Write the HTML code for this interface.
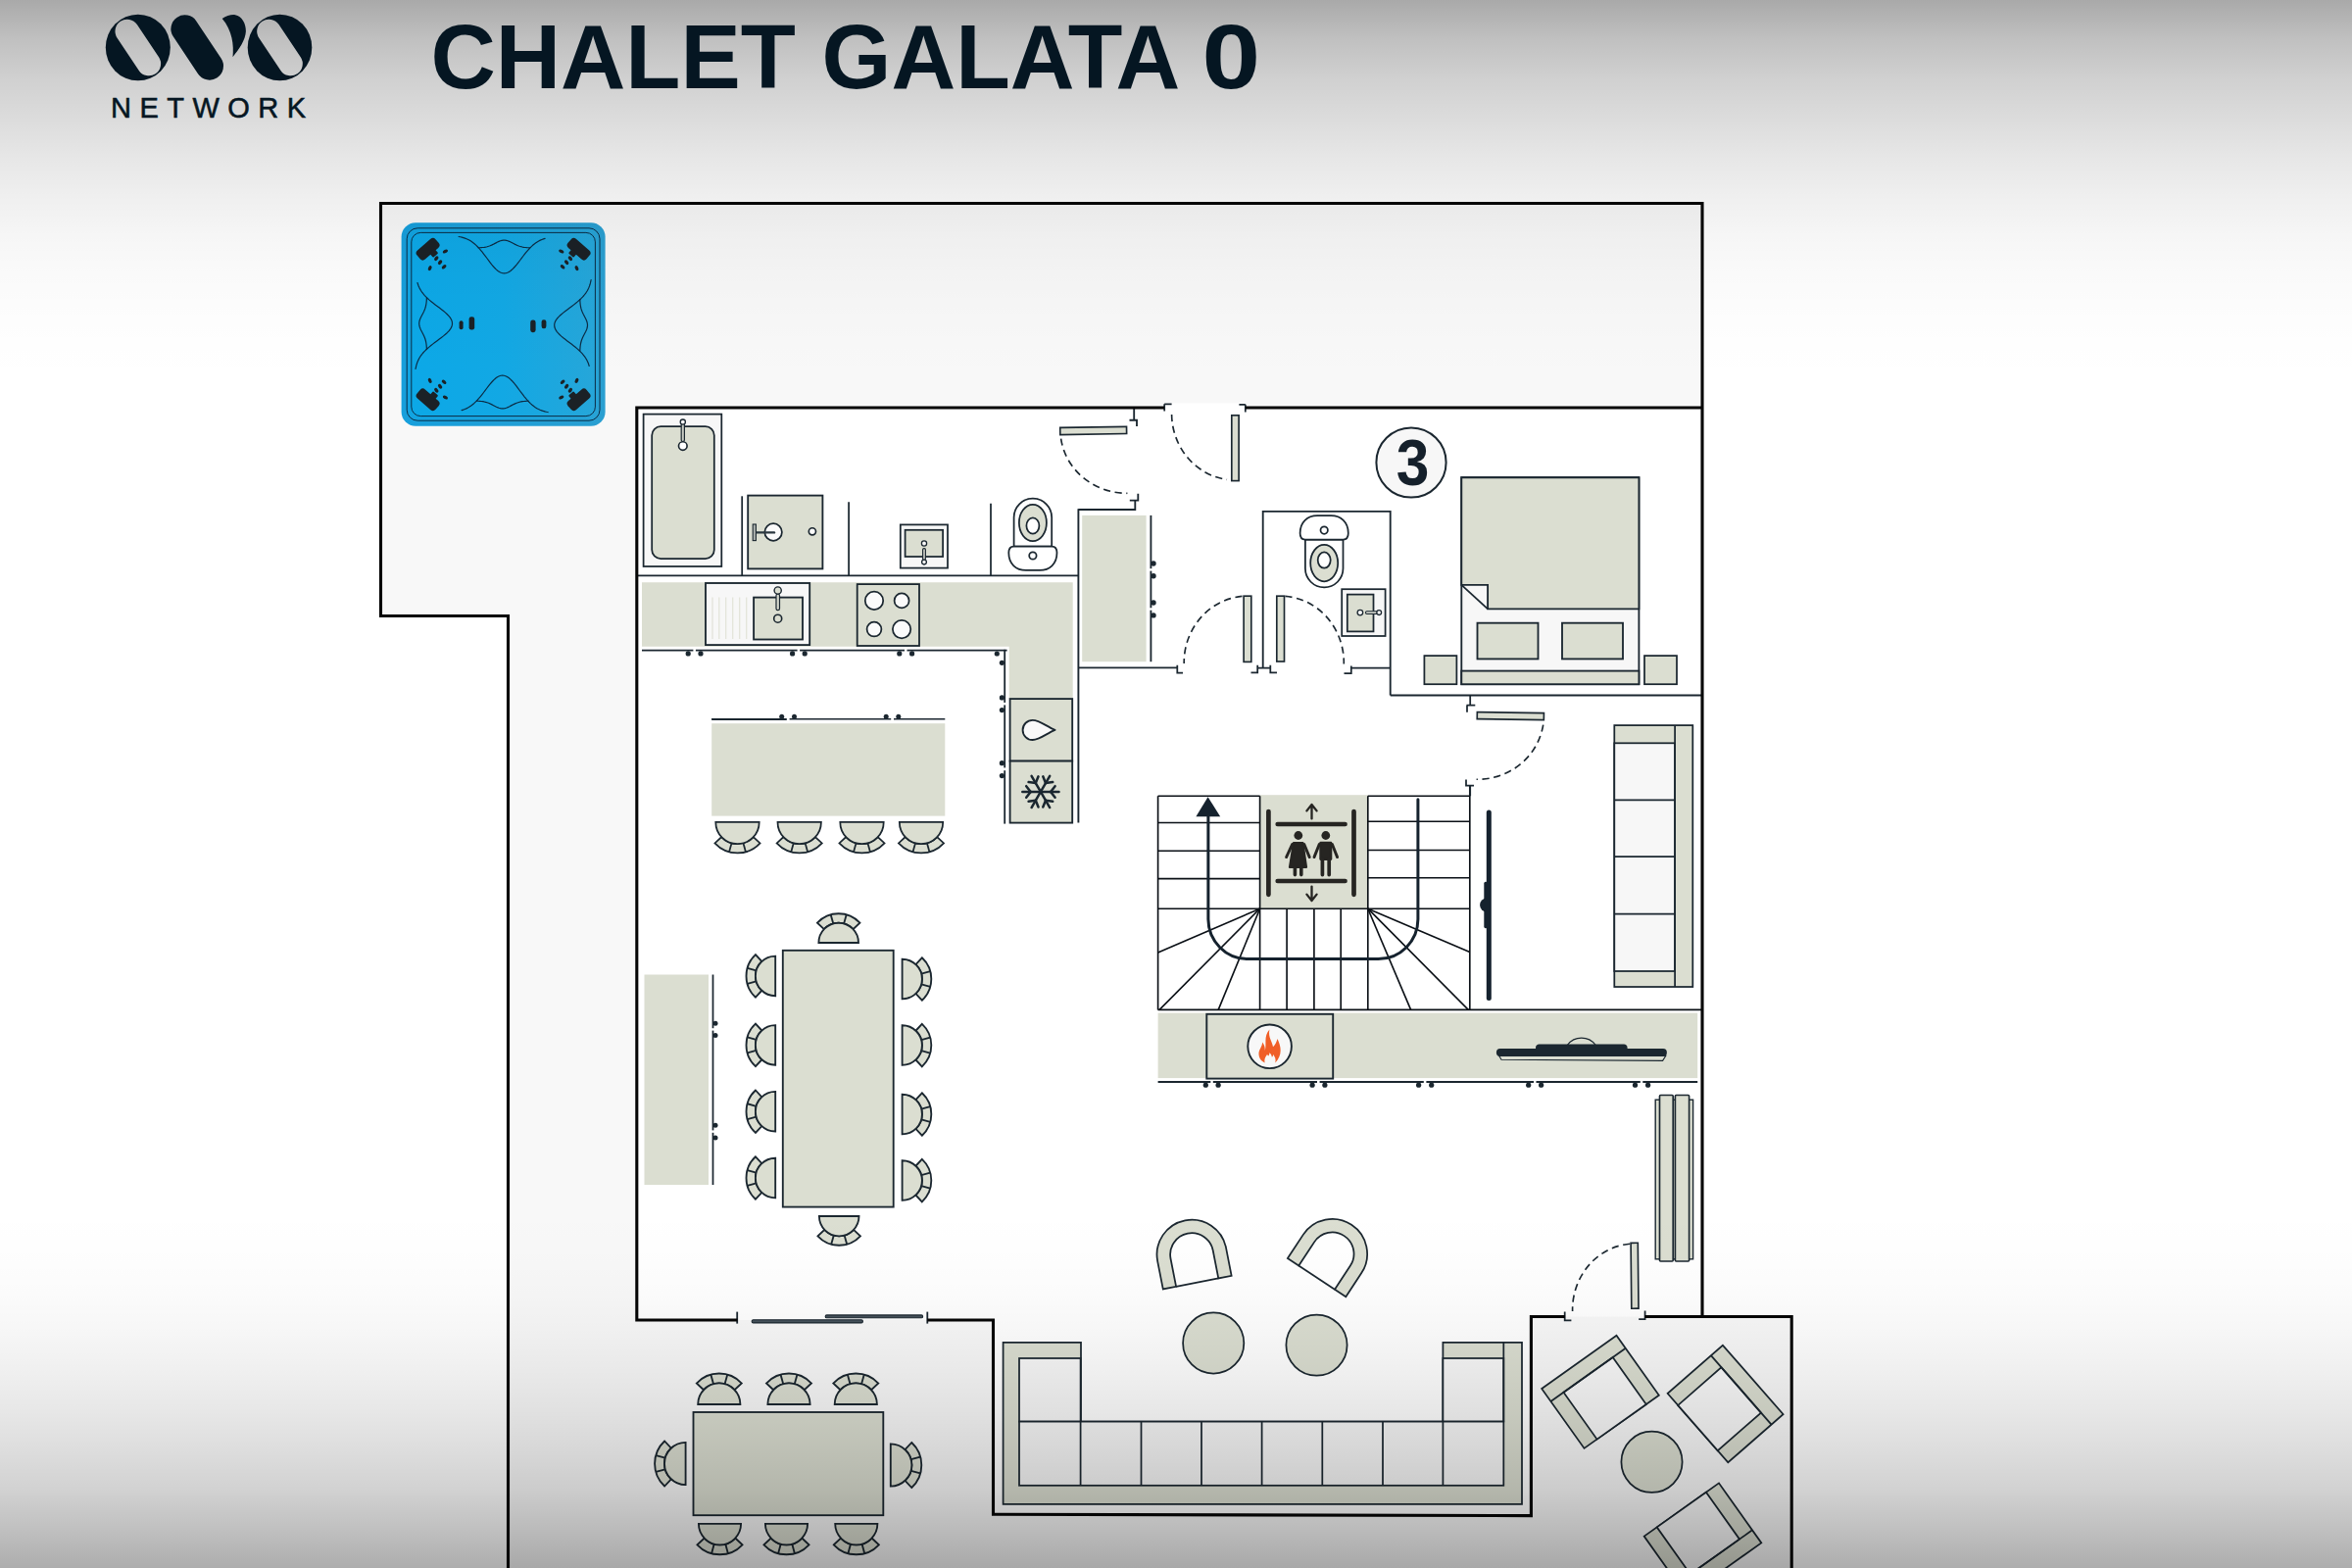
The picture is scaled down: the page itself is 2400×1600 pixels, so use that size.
<!DOCTYPE html>
<html lang="en">
<head>
<meta charset="utf-8">
<title>Chalet Galata 0</title>
<style>
html,body{margin:0;padding:0;background:#fff;}
body{width:2400px;height:1600px;overflow:hidden;font-family:"Liberation Sans",sans-serif;}
svg{display:block;}
</style>
</head>
<body>
<svg width="2400" height="1600" viewBox="0 0 2400 1600">
<defs>
<linearGradient id="gt" x1="0" y1="0" x2="0" y2="1">
<stop offset="0.0" stop-color="#000" stop-opacity="0.337"/>
<stop offset="0.1" stop-color="#000" stop-opacity="0.247"/>
<stop offset="0.2" stop-color="#000" stop-opacity="0.184"/>
<stop offset="0.3" stop-color="#000" stop-opacity="0.14"/>
<stop offset="0.4" stop-color="#000" stop-opacity="0.097"/>
<stop offset="0.5" stop-color="#000" stop-opacity="0.063"/>
<stop offset="0.6" stop-color="#000" stop-opacity="0.036"/>
<stop offset="0.7" stop-color="#000" stop-opacity="0.02"/>
<stop offset="0.8" stop-color="#000" stop-opacity="0.01"/>
<stop offset="0.9" stop-color="#000" stop-opacity="0.003"/>
<stop offset="1.0" stop-color="#000" stop-opacity="0"/>
</linearGradient>
<linearGradient id="gb" x1="0" y1="1" x2="0" y2="0">
<stop offset="0.0" stop-color="#000" stop-opacity="0.322"/>
<stop offset="0.1" stop-color="#000" stop-opacity="0.247"/>
<stop offset="0.2" stop-color="#000" stop-opacity="0.178"/>
<stop offset="0.3" stop-color="#000" stop-opacity="0.134"/>
<stop offset="0.4" stop-color="#000" stop-opacity="0.094"/>
<stop offset="0.5" stop-color="#000" stop-opacity="0.062"/>
<stop offset="0.6" stop-color="#000" stop-opacity="0.035"/>
<stop offset="0.7" stop-color="#000" stop-opacity="0.016"/>
<stop offset="0.8" stop-color="#000" stop-opacity="0.006"/>
<stop offset="0.9" stop-color="#000" stop-opacity="0.001"/>
<stop offset="1.0" stop-color="#000" stop-opacity="0"/>
</linearGradient>
<mask id="mo1"><rect x="100" y="0" width="230" height="100" fill="#fff"/><line x1="129.7" y1="31.9" x2="151.9" y2="65.1" stroke="#000" stroke-width="24.4" stroke-linecap="round"/></mask>
<mask id="mo2"><rect x="100" y="0" width="230" height="100" fill="#fff"/><line x1="274.4" y1="31.9" x2="296.6" y2="65.1" stroke="#000" stroke-width="24.4" stroke-linecap="round"/></mask>
</defs>
<rect x="0" y="0" width="2400" height="1600" fill="#ffffff"/>
<polygon points="388.50,207.50 1737.00,207.50 1737.00,1343.50 1828.20,1343.50 1828.20,1600.00 518.50,1600.00 518.50,628.50 388.50,628.50" fill="#f8f8f8" />
<polygon points="649.80,416.00 1188.00,416.00 1188.00,411.50 1271.00,411.50 1271.00,416.00 1737.00,416.00 1737.00,1343.50 1562.40,1343.50 1562.40,1546.50 1013.50,1545.30 1013.50,1347.00 649.80,1347.00" fill="#ffffff" />
<g>
<linearGradient id="tubA" x1="0" y1="0" x2="1" y2="0"><stop offset="0" stop-color="#169fdc"/><stop offset="1" stop-color="#2a9fd1"/></linearGradient>
<linearGradient id="tubB" x1="0" y1="0" x2="1" y2="0"><stop offset="0" stop-color="#0ca8e7"/><stop offset="0.5" stop-color="#12a8e4"/><stop offset="1" stop-color="#26a6d9"/></linearGradient>
<rect x="409.60" y="227.20" width="208.00" height="207.60" fill="url(#tubA)" rx="14.5" />
<rect x="415.20" y="232.80" width="196.80" height="196.40" fill="url(#tubB)" stroke="#0b2c45" stroke-width="1.0" rx="11" fill-opacity="0.55"/>
<rect x="419.80" y="237.40" width="187.60" height="187.20" fill="url(#tubB)" stroke="#0b2c45" stroke-width="1.0" rx="9.5" />
<g transform="rotate(0 513.60 331.00)" fill="none" stroke="#0b2c45" stroke-width="1.2" stroke-linecap="round" stroke-linejoin="round">
<polyline points="468.10,241.48 469.70,241.78 471.30,242.14 472.90,242.58 474.50,243.11 476.10,243.74 477.70,244.48 479.30,245.34 480.90,246.34 482.50,247.47 484.10,248.74 485.70,250.16 487.30,251.73 488.90,253.43 490.50,255.27 492.10,257.21 493.70,259.26 495.30,261.37 496.90,263.51 498.50,265.67 500.10,267.78 501.70,269.83 503.30,271.76 504.90,273.53 506.50,275.10 508.10,276.44 509.70,277.51 511.30,278.29 512.90,278.76 514.50,278.90 516.10,278.75 517.70,278.28 519.30,277.49 520.90,276.42 522.50,275.08 524.10,273.52 525.70,271.76 527.30,269.85 528.90,267.83 530.50,265.74 532.10,263.62 533.70,261.50 535.30,259.43 536.90,257.44 538.50,255.53 540.10,253.75 541.70,252.09 543.30,250.58 544.90,249.21 546.50,247.99 548.10,246.91 549.70,245.97 551.30,245.16 552.90,244.46 554.50,243.88 556.10,243.40"/>
<polyline points="488.10,252.80 489.60,252.74 491.10,252.64 492.60,252.51 494.10,252.32 495.60,252.06 497.10,251.72 498.60,251.28 500.10,250.75 501.60,250.12 503.10,249.41 504.60,248.64 506.10,247.85 507.60,247.07 509.10,246.36 510.60,245.78 512.10,245.36 513.60,245.13 515.10,245.12 516.60,245.33 518.10,245.74 519.60,246.32 521.10,247.02 522.60,247.79 524.10,248.59 525.60,249.36 527.10,250.08 528.60,250.71 530.10,251.25 531.60,251.69 533.10,252.04 534.60,252.30 536.10,252.50 537.60,252.64 539.10,252.73 540.60,252.80"/>
</g>
<g transform="rotate(90 513.60 331.00)" fill="none" stroke="#0b2c45" stroke-width="1.2" stroke-linecap="round" stroke-linejoin="round">
<polyline points="468.10,241.48 469.70,241.78 471.30,242.14 472.90,242.58 474.50,243.11 476.10,243.74 477.70,244.48 479.30,245.34 480.90,246.34 482.50,247.47 484.10,248.74 485.70,250.16 487.30,251.73 488.90,253.43 490.50,255.27 492.10,257.21 493.70,259.26 495.30,261.37 496.90,263.51 498.50,265.67 500.10,267.78 501.70,269.83 503.30,271.76 504.90,273.53 506.50,275.10 508.10,276.44 509.70,277.51 511.30,278.29 512.90,278.76 514.50,278.90 516.10,278.75 517.70,278.28 519.30,277.49 520.90,276.42 522.50,275.08 524.10,273.52 525.70,271.76 527.30,269.85 528.90,267.83 530.50,265.74 532.10,263.62 533.70,261.50 535.30,259.43 536.90,257.44 538.50,255.53 540.10,253.75 541.70,252.09 543.30,250.58 544.90,249.21 546.50,247.99 548.10,246.91 549.70,245.97 551.30,245.16 552.90,244.46 554.50,243.88 556.10,243.40"/>
<polyline points="488.10,252.80 489.60,252.74 491.10,252.64 492.60,252.51 494.10,252.32 495.60,252.06 497.10,251.72 498.60,251.28 500.10,250.75 501.60,250.12 503.10,249.41 504.60,248.64 506.10,247.85 507.60,247.07 509.10,246.36 510.60,245.78 512.10,245.36 513.60,245.13 515.10,245.12 516.60,245.33 518.10,245.74 519.60,246.32 521.10,247.02 522.60,247.79 524.10,248.59 525.60,249.36 527.10,250.08 528.60,250.71 530.10,251.25 531.60,251.69 533.10,252.04 534.60,252.30 536.10,252.50 537.60,252.64 539.10,252.73 540.60,252.80"/>
</g>
<g transform="rotate(180 513.60 331.00)" fill="none" stroke="#0b2c45" stroke-width="1.2" stroke-linecap="round" stroke-linejoin="round">
<polyline points="468.10,241.48 469.70,241.78 471.30,242.14 472.90,242.58 474.50,243.11 476.10,243.74 477.70,244.48 479.30,245.34 480.90,246.34 482.50,247.47 484.10,248.74 485.70,250.16 487.30,251.73 488.90,253.43 490.50,255.27 492.10,257.21 493.70,259.26 495.30,261.37 496.90,263.51 498.50,265.67 500.10,267.78 501.70,269.83 503.30,271.76 504.90,273.53 506.50,275.10 508.10,276.44 509.70,277.51 511.30,278.29 512.90,278.76 514.50,278.90 516.10,278.75 517.70,278.28 519.30,277.49 520.90,276.42 522.50,275.08 524.10,273.52 525.70,271.76 527.30,269.85 528.90,267.83 530.50,265.74 532.10,263.62 533.70,261.50 535.30,259.43 536.90,257.44 538.50,255.53 540.10,253.75 541.70,252.09 543.30,250.58 544.90,249.21 546.50,247.99 548.10,246.91 549.70,245.97 551.30,245.16 552.90,244.46 554.50,243.88 556.10,243.40"/>
<polyline points="488.10,252.80 489.60,252.74 491.10,252.64 492.60,252.51 494.10,252.32 495.60,252.06 497.10,251.72 498.60,251.28 500.10,250.75 501.60,250.12 503.10,249.41 504.60,248.64 506.10,247.85 507.60,247.07 509.10,246.36 510.60,245.78 512.10,245.36 513.60,245.13 515.10,245.12 516.60,245.33 518.10,245.74 519.60,246.32 521.10,247.02 522.60,247.79 524.10,248.59 525.60,249.36 527.10,250.08 528.60,250.71 530.10,251.25 531.60,251.69 533.10,252.04 534.60,252.30 536.10,252.50 537.60,252.64 539.10,252.73 540.60,252.80"/>
</g>
<g transform="rotate(270 513.60 331.00)" fill="none" stroke="#0b2c45" stroke-width="1.2" stroke-linecap="round" stroke-linejoin="round">
<polyline points="468.10,241.48 469.70,241.78 471.30,242.14 472.90,242.58 474.50,243.11 476.10,243.74 477.70,244.48 479.30,245.34 480.90,246.34 482.50,247.47 484.10,248.74 485.70,250.16 487.30,251.73 488.90,253.43 490.50,255.27 492.10,257.21 493.70,259.26 495.30,261.37 496.90,263.51 498.50,265.67 500.10,267.78 501.70,269.83 503.30,271.76 504.90,273.53 506.50,275.10 508.10,276.44 509.70,277.51 511.30,278.29 512.90,278.76 514.50,278.90 516.10,278.75 517.70,278.28 519.30,277.49 520.90,276.42 522.50,275.08 524.10,273.52 525.70,271.76 527.30,269.85 528.90,267.83 530.50,265.74 532.10,263.62 533.70,261.50 535.30,259.43 536.90,257.44 538.50,255.53 540.10,253.75 541.70,252.09 543.30,250.58 544.90,249.21 546.50,247.99 548.10,246.91 549.70,245.97 551.30,245.16 552.90,244.46 554.50,243.88 556.10,243.40"/>
<polyline points="488.10,252.80 489.60,252.74 491.10,252.64 492.60,252.51 494.10,252.32 495.60,252.06 497.10,251.72 498.60,251.28 500.10,250.75 501.60,250.12 503.10,249.41 504.60,248.64 506.10,247.85 507.60,247.07 509.10,246.36 510.60,245.78 512.10,245.36 513.60,245.13 515.10,245.12 516.60,245.33 518.10,245.74 519.60,246.32 521.10,247.02 522.60,247.79 524.10,248.59 525.60,249.36 527.10,250.08 528.60,250.71 530.10,251.25 531.60,251.69 533.10,252.04 534.60,252.30 536.10,252.50 537.60,252.64 539.10,252.73 540.60,252.80"/>
</g>
<g transform="translate(513.60,331.00) scale(1,1) translate(-513.60,-331.00)" fill="#1b2126">
<rect x="-12.5" y="-6" width="25" height="12" rx="3.6" transform="translate(436.6,254.2) rotate(-41)"/>
<rect x="-3.5" y="-3" width="7" height="6" rx="1" transform="translate(442.6,258.3) rotate(-41)"/>
<ellipse cx="454.4" cy="256.5" rx="2.7" ry="1.7" transform="rotate(-25 454.4 256.5)"/>
<ellipse cx="445.3" cy="263.7" rx="2.7" ry="1.7" transform="rotate(-50 445.3 263.7)"/>
<ellipse cx="449.1" cy="267.7" rx="2.7" ry="1.7" transform="rotate(-50 449.1 267.7)"/>
<ellipse cx="453.1" cy="272.3" rx="2.7" ry="1.7" transform="rotate(-40 453.1 272.3)"/>
<ellipse cx="438.7" cy="273.6" rx="2.7" ry="1.7" transform="rotate(-65 438.7 273.6)"/>
</g>
<g transform="translate(513.60,331.00) scale(-1,1) translate(-513.60,-331.00)" fill="#1b2126">
<rect x="-12.5" y="-6" width="25" height="12" rx="3.6" transform="translate(436.6,254.2) rotate(-41)"/>
<rect x="-3.5" y="-3" width="7" height="6" rx="1" transform="translate(442.6,258.3) rotate(-41)"/>
<ellipse cx="454.4" cy="256.5" rx="2.7" ry="1.7" transform="rotate(-25 454.4 256.5)"/>
<ellipse cx="445.3" cy="263.7" rx="2.7" ry="1.7" transform="rotate(-50 445.3 263.7)"/>
<ellipse cx="449.1" cy="267.7" rx="2.7" ry="1.7" transform="rotate(-50 449.1 267.7)"/>
<ellipse cx="453.1" cy="272.3" rx="2.7" ry="1.7" transform="rotate(-40 453.1 272.3)"/>
<ellipse cx="438.7" cy="273.6" rx="2.7" ry="1.7" transform="rotate(-65 438.7 273.6)"/>
</g>
<g transform="translate(513.60,331.00) scale(1,-1) translate(-513.60,-331.00)" fill="#1b2126">
<rect x="-12.5" y="-6" width="25" height="12" rx="3.6" transform="translate(436.6,254.2) rotate(-41)"/>
<rect x="-3.5" y="-3" width="7" height="6" rx="1" transform="translate(442.6,258.3) rotate(-41)"/>
<ellipse cx="454.4" cy="256.5" rx="2.7" ry="1.7" transform="rotate(-25 454.4 256.5)"/>
<ellipse cx="445.3" cy="263.7" rx="2.7" ry="1.7" transform="rotate(-50 445.3 263.7)"/>
<ellipse cx="449.1" cy="267.7" rx="2.7" ry="1.7" transform="rotate(-50 449.1 267.7)"/>
<ellipse cx="453.1" cy="272.3" rx="2.7" ry="1.7" transform="rotate(-40 453.1 272.3)"/>
<ellipse cx="438.7" cy="273.6" rx="2.7" ry="1.7" transform="rotate(-65 438.7 273.6)"/>
</g>
<g transform="translate(513.60,331.00) scale(-1,-1) translate(-513.60,-331.00)" fill="#1b2126">
<rect x="-12.5" y="-6" width="25" height="12" rx="3.6" transform="translate(436.6,254.2) rotate(-41)"/>
<rect x="-3.5" y="-3" width="7" height="6" rx="1" transform="translate(442.6,258.3) rotate(-41)"/>
<ellipse cx="454.4" cy="256.5" rx="2.7" ry="1.7" transform="rotate(-25 454.4 256.5)"/>
<ellipse cx="445.3" cy="263.7" rx="2.7" ry="1.7" transform="rotate(-50 445.3 263.7)"/>
<ellipse cx="449.1" cy="267.7" rx="2.7" ry="1.7" transform="rotate(-50 449.1 267.7)"/>
<ellipse cx="453.1" cy="272.3" rx="2.7" ry="1.7" transform="rotate(-40 453.1 272.3)"/>
<ellipse cx="438.7" cy="273.6" rx="2.7" ry="1.7" transform="rotate(-65 438.7 273.6)"/>
</g>
<g fill="#1b2126">
<rect x="468.60" y="327.20" width="4.00" height="9.00" fill="#1b2126" rx="2" />
<rect x="478.60" y="323.20" width="5.60" height="13.40" fill="#1b2126" rx="2.4" />
<rect x="541.20" y="326.50" width="5.40" height="12.70" fill="#1b2126" rx="2.4" />
<rect x="552.60" y="326.20" width="4.80" height="9.00" fill="#1b2126" rx="2.2" />
</g></g>
<rect x="656.60" y="422.60" width="79.70" height="155.40" fill="#f7f7f7" stroke="#1b2730" stroke-width="1.75" />
<rect x="665.20" y="435.20" width="63.60" height="134.80" fill="#dbded1" stroke="#1b2730" stroke-width="1.75" rx="9" />
<rect x="695.20" y="432.00" width="3.20" height="18.50" fill="#c9ccc4" stroke="#1b2730" stroke-width="1.2" rx="1.4" />
<circle cx="696.80" cy="430.60" r="2.60" fill="#f7f7f7" stroke="#1b2730" stroke-width="1.3"/>
<circle cx="696.80" cy="455.00" r="4.30" fill="#ffffff" stroke="#1b2730" stroke-width="1.65"/>
<line x1="651.00" y1="587.40" x2="1100.40" y2="587.40" stroke="#1b2730" stroke-width="1.85" stroke-linecap="butt" />
<line x1="757.20" y1="506.30" x2="757.20" y2="587.40" stroke="#1b2730" stroke-width="1.75" stroke-linecap="butt" />
<line x1="866.10" y1="512.20" x2="866.10" y2="587.40" stroke="#1b2730" stroke-width="1.75" stroke-linecap="butt" />
<line x1="1011.00" y1="513.70" x2="1011.00" y2="587.40" stroke="#1b2730" stroke-width="1.75" stroke-linecap="butt" />
<rect x="763.20" y="505.60" width="76.20" height="74.80" fill="#dbded1" stroke="#1b2730" stroke-width="1.85" />
<circle cx="789.10" cy="543.00" r="8.80" fill="#fbfbfb" stroke="#1b2730" stroke-width="1.75"/>
<line x1="770.00" y1="543.40" x2="790.00" y2="543.40" stroke="#2b3840" stroke-width="2.4" stroke-linecap="round" />
<rect x="768.20" y="535.00" width="3.20" height="16.60" fill="#aeb3b0" stroke="#1b2730" stroke-width="1.1" />
<circle cx="828.90" cy="542.30" r="3.60" fill="#fbfbfb" stroke="#1b2730" stroke-width="1.65"/>
<rect x="918.80" y="535.40" width="48.20" height="44.20" fill="#f7f7f7" stroke="#1b2730" stroke-width="1.75" />
<rect x="923.60" y="540.80" width="38.50" height="27.20" fill="#dbded1" stroke="#1b2730" stroke-width="1.75" />
<rect x="941.60" y="559.60" width="2.80" height="11.90" fill="#c9ccc4" stroke="#1b2730" stroke-width="1.1" rx="1.2" />
<circle cx="943.00" cy="554.50" r="2.60" fill="#f7f7f7" stroke="#1b2730" stroke-width="1.3"/>
<circle cx="943.00" cy="573.60" r="2.40" fill="#f7f7f7" stroke="#1b2730" stroke-width="1.3"/>
<g transform="translate(1053.90,557.50) rotate(0)" stroke="#1b2730" stroke-width="1.75">
<path d="M-19.3,0 V-29.5 A19.3,19.3 0 0 1 19.3,-29.5 V0 Z" fill="#ffffff"/>
<ellipse cx="0" cy="-24" rx="14" ry="18.7" fill="#dbded1"/>
<ellipse cx="0" cy="-21" rx="6.5" ry="8.1" fill="#ffffff"/>
<path d="M-19.5,0 H19.5 C22.6,0 24.6,2.6 24.6,6.5 C24.6,18 17,24.4 7,24.4 H-7 C-17,24.4 -24.6,18 -24.6,6.5 C-24.6,2.6 -22.6,0 -19.5,0 Z" fill="#ffffff"/>
<circle cx="0" cy="9.5" r="3.7" fill="#ffffff"/>
</g>
<path d="M1288.7,681.5 V521.9 H1418.7 V709.5" fill="none" stroke="#1b2730" stroke-width="1.85" />
<g transform="translate(1351.20,550.60) rotate(180)" stroke="#1b2730" stroke-width="1.75">
<path d="M-19.3,0 V-29.5 A19.3,19.3 0 0 1 19.3,-29.5 V0 Z" fill="#ffffff"/>
<ellipse cx="0" cy="-24" rx="14" ry="18.7" fill="#dbded1"/>
<ellipse cx="0" cy="-21" rx="6.5" ry="8.1" fill="#ffffff"/>
<path d="M-19.5,0 H19.5 C22.6,0 24.6,2.6 24.6,6.5 C24.6,18 17,24.4 7,24.4 H-7 C-17,24.4 -24.6,18 -24.6,6.5 C-24.6,2.6 -22.6,0 -19.5,0 Z" fill="#ffffff"/>
<circle cx="0" cy="9.5" r="3.7" fill="#ffffff"/>
</g>
<rect x="1369.20" y="601.20" width="44.40" height="47.80" fill="#f7f7f7" stroke="#1b2730" stroke-width="1.75" />
<rect x="1374.80" y="606.60" width="26.70" height="37.80" fill="#dbded1" stroke="#1b2730" stroke-width="1.75" />
<rect x="1393.50" y="623.70" width="12.50" height="2.80" fill="#c9ccc4" stroke="#1b2730" stroke-width="1.1" rx="1.2" />
<circle cx="1387.90" cy="625.10" r="2.80" fill="#f7f7f7" stroke="#1b2730" stroke-width="1.3"/>
<circle cx="1407.20" cy="625.10" r="2.40" fill="#f7f7f7" stroke="#1b2730" stroke-width="1.3"/>
<path d="M655,594.2 H1094.7 V713 H1029.7 V659.8 H655 Z" fill="#dbded1" />
<rect x="720.00" y="595.00" width="106.20" height="63.10" fill="#f7f7f7" stroke="#1b2730" stroke-width="1.85" />
<line x1="727.00" y1="609.50" x2="727.00" y2="652.00" stroke="#e3e4da" stroke-width="1.3" stroke-linecap="butt" />
<line x1="733.80" y1="609.50" x2="733.80" y2="652.00" stroke="#e3e4da" stroke-width="1.3" stroke-linecap="butt" />
<line x1="740.70" y1="609.50" x2="740.70" y2="652.00" stroke="#e3e4da" stroke-width="1.3" stroke-linecap="butt" />
<line x1="747.70" y1="609.50" x2="747.70" y2="652.00" stroke="#e3e4da" stroke-width="1.3" stroke-linecap="butt" />
<line x1="754.70" y1="609.50" x2="754.70" y2="652.00" stroke="#e3e4da" stroke-width="1.3" stroke-linecap="butt" />
<line x1="761.70" y1="609.50" x2="761.70" y2="652.00" stroke="#e3e4da" stroke-width="1.3" stroke-linecap="butt" />
<rect x="769.10" y="609.60" width="49.90" height="42.90" fill="#dbded1" stroke="#1b2730" stroke-width="1.85" />
<rect x="792.00" y="606.00" width="3.50" height="16.60" fill="#d3d6cc" stroke="#1b2730" stroke-width="1.2" rx="1.7" />
<circle cx="793.70" cy="602.50" r="3.60" fill="#dbded1" stroke="#1b2730" stroke-width="1.4"/>
<circle cx="793.70" cy="631.20" r="4.00" fill="#dbded1" stroke="#1b2730" stroke-width="1.65"/>
<rect x="874.70" y="596.10" width="63.30" height="62.90" fill="#dbded1" stroke="#1b2730" stroke-width="1.8" />
<circle cx="892.00" cy="612.90" r="9.20" fill="#fbfbfb" stroke="#1b2730" stroke-width="1.75"/>
<circle cx="920.10" cy="612.90" r="7.50" fill="#fbfbfb" stroke="#1b2730" stroke-width="1.75"/>
<circle cx="892.00" cy="642.10" r="7.40" fill="#fbfbfb" stroke="#1b2730" stroke-width="1.75"/>
<circle cx="920.10" cy="642.10" r="9.20" fill="#fbfbfb" stroke="#1b2730" stroke-width="1.75"/>
<line x1="655.00" y1="663.70" x2="707.40" y2="663.70" stroke="#1b2730" stroke-width="1.8" stroke-linecap="butt" />
<line x1="709.90" y1="663.70" x2="813.60" y2="663.70" stroke="#1b2730" stroke-width="1.8" stroke-linecap="butt" />
<line x1="816.10" y1="663.70" x2="923.00" y2="663.70" stroke="#1b2730" stroke-width="1.8" stroke-linecap="butt" />
<line x1="925.50" y1="663.70" x2="1027.60" y2="663.70" stroke="#1b2730" stroke-width="1.8" stroke-linecap="butt" />
<circle cx="702.20" cy="666.90" r="2.60" fill="#1b2730"/>
<circle cx="715.00" cy="666.90" r="2.60" fill="#1b2730"/>
<circle cx="808.60" cy="666.90" r="2.60" fill="#1b2730"/>
<circle cx="821.20" cy="666.90" r="2.60" fill="#1b2730"/>
<circle cx="917.80" cy="666.90" r="2.60" fill="#1b2730"/>
<circle cx="930.60" cy="666.90" r="2.60" fill="#1b2730"/>
<circle cx="1017.30" cy="667.00" r="2.60" fill="#1b2730"/>
<line x1="1025.20" y1="662.80" x2="1025.20" y2="716.90" stroke="#1b2730" stroke-width="1.8" stroke-linecap="butt" />
<line x1="1025.20" y1="719.40" x2="1025.20" y2="783.40" stroke="#1b2730" stroke-width="1.8" stroke-linecap="butt" />
<line x1="1025.20" y1="786.20" x2="1025.20" y2="840.60" stroke="#1b2730" stroke-width="1.8" stroke-linecap="butt" />
<circle cx="1022.40" cy="676.30" r="2.60" fill="#1b2730"/>
<circle cx="1022.40" cy="711.90" r="2.60" fill="#1b2730"/>
<circle cx="1022.40" cy="724.60" r="2.60" fill="#1b2730"/>
<circle cx="1022.40" cy="778.70" r="2.60" fill="#1b2730"/>
<circle cx="1022.40" cy="791.60" r="2.60" fill="#1b2730"/>
<line x1="1100.40" y1="519.20" x2="1100.40" y2="839.60" stroke="#1b2730" stroke-width="1.9" stroke-linecap="butt" />
<rect x="1030.60" y="713.10" width="63.60" height="63.50" fill="#dbded1" stroke="#1b2730" stroke-width="1.85" />
<rect x="1030.60" y="776.60" width="63.60" height="63.00" fill="#dbded1" stroke="#1b2730" stroke-width="1.85" />
<path d="M1076.6,744.9 C1068,741.5 1061,734.8 1053.7,734.8 A10.1,10.1 0 0 0 1053.7,755 C1061,755 1068,748.3 1076.6,744.9 Z" fill="#f9f9f9" stroke="#1b2730" stroke-width="1.85" stroke-linejoin="round"/>
<g stroke="#1b2730" stroke-width="2.5" stroke-linecap="round" fill="none">
<line x1="1061.90" y1="807.90" x2="1080.50" y2="807.90"/>
<line x1="1072.10" y1="807.90" x2="1076.59" y2="802.15"/>
<line x1="1072.10" y1="807.90" x2="1076.59" y2="813.65"/>
<line x1="1061.90" y1="807.90" x2="1071.20" y2="824.01"/>
<line x1="1067.00" y1="816.73" x2="1074.23" y2="817.75"/>
<line x1="1067.00" y1="816.73" x2="1064.27" y2="823.50"/>
<line x1="1061.90" y1="807.90" x2="1052.60" y2="824.01"/>
<line x1="1056.80" y1="816.73" x2="1059.53" y2="823.50"/>
<line x1="1056.80" y1="816.73" x2="1049.57" y2="817.75"/>
<line x1="1061.90" y1="807.90" x2="1043.30" y2="807.90"/>
<line x1="1051.70" y1="807.90" x2="1047.21" y2="813.65"/>
<line x1="1051.70" y1="807.90" x2="1047.21" y2="802.15"/>
<line x1="1061.90" y1="807.90" x2="1052.60" y2="791.79"/>
<line x1="1056.80" y1="799.07" x2="1049.57" y2="798.05"/>
<line x1="1056.80" y1="799.07" x2="1059.53" y2="792.30"/>
<line x1="1061.90" y1="807.90" x2="1071.20" y2="791.79"/>
<line x1="1067.00" y1="799.07" x2="1064.27" y2="792.30"/>
<line x1="1067.00" y1="799.07" x2="1074.23" y2="798.05"/>
</g>
<rect x="726.20" y="738.20" width="238.10" height="94.40" fill="#dbded1" />
<line x1="726.20" y1="733.70" x2="964.30" y2="733.70" stroke="#1b2730" stroke-width="1.65" stroke-linecap="butt" />
<line x1="726.20" y1="734.00" x2="803.00" y2="734.00" stroke="#1b2730" stroke-width="2.2" stroke-linecap="butt" />
<circle cx="797.70" cy="731.30" r="2.50" fill="#1b2730"/>
<circle cx="810.50" cy="731.30" r="2.50" fill="#1b2730"/>
<circle cx="904.20" cy="731.30" r="2.50" fill="#1b2730"/>
<circle cx="916.80" cy="731.30" r="2.50" fill="#1b2730"/>
<line x1="802.80" y1="733.70" x2="805.60" y2="733.70" stroke="#ffffff" stroke-width="2.6" stroke-linecap="butt" />
<line x1="909.20" y1="733.70" x2="912.00" y2="733.70" stroke="#ffffff" stroke-width="2.6" stroke-linecap="butt" />
<g transform="translate(752.50,838.90) rotate(0)" fill="#dbded1" stroke="#1b2730" stroke-width="1.75" stroke-linejoin="miter"><path d="M16.24,15.14 L23.11,21.55 A31.6,31.6 0 0 1 -23.11,21.55 L-16.24,15.14 A22.2,22.2 0 0 0 16.24,15.14 Z"/><line x1="5.93" y1="21.39" x2="8.44" y2="30.45"/><line x1="-5.93" y1="21.39" x2="-8.44" y2="30.45"/><path d="M-22.2,0 L22.2,0 A22.2,22.2 0 0 1 -22.2,0 Z"/></g>
<g transform="translate(815.70,838.90) rotate(0)" fill="#dbded1" stroke="#1b2730" stroke-width="1.75" stroke-linejoin="miter"><path d="M16.24,15.14 L23.11,21.55 A31.6,31.6 0 0 1 -23.11,21.55 L-16.24,15.14 A22.2,22.2 0 0 0 16.24,15.14 Z"/><line x1="5.93" y1="21.39" x2="8.44" y2="30.45"/><line x1="-5.93" y1="21.39" x2="-8.44" y2="30.45"/><path d="M-22.2,0 L22.2,0 A22.2,22.2 0 0 1 -22.2,0 Z"/></g>
<g transform="translate(879.50,838.90) rotate(0)" fill="#dbded1" stroke="#1b2730" stroke-width="1.75" stroke-linejoin="miter"><path d="M16.24,15.14 L23.11,21.55 A31.6,31.6 0 0 1 -23.11,21.55 L-16.24,15.14 A22.2,22.2 0 0 0 16.24,15.14 Z"/><line x1="5.93" y1="21.39" x2="8.44" y2="30.45"/><line x1="-5.93" y1="21.39" x2="-8.44" y2="30.45"/><path d="M-22.2,0 L22.2,0 A22.2,22.2 0 0 1 -22.2,0 Z"/></g>
<g transform="translate(940.00,838.90) rotate(0)" fill="#dbded1" stroke="#1b2730" stroke-width="1.75" stroke-linejoin="miter"><path d="M16.24,15.14 L23.11,21.55 A31.6,31.6 0 0 1 -23.11,21.55 L-16.24,15.14 A22.2,22.2 0 0 0 16.24,15.14 Z"/><line x1="5.93" y1="21.39" x2="8.44" y2="30.45"/><line x1="-5.93" y1="21.39" x2="-8.44" y2="30.45"/><path d="M-22.2,0 L22.2,0 A22.2,22.2 0 0 1 -22.2,0 Z"/></g>
<rect x="1104.20" y="525.90" width="65.40" height="149.30" fill="#dbded1" />
<line x1="1174.40" y1="525.90" x2="1174.40" y2="580.20" stroke="#1b2730" stroke-width="1.85" stroke-linecap="butt" />
<line x1="1174.40" y1="582.60" x2="1174.40" y2="620.30" stroke="#1b2730" stroke-width="1.85" stroke-linecap="butt" />
<line x1="1174.40" y1="622.70" x2="1174.40" y2="675.20" stroke="#1b2730" stroke-width="1.85" stroke-linecap="butt" />
<circle cx="1177.00" cy="575.00" r="2.70" fill="#1b2730"/>
<circle cx="1177.00" cy="587.70" r="2.70" fill="#1b2730"/>
<circle cx="1177.00" cy="615.00" r="2.70" fill="#1b2730"/>
<circle cx="1177.00" cy="627.90" r="2.70" fill="#1b2730"/>
<path d="M1100.4,520 H1158.3 V510.6 M1152.8,510.6 H1161.3 V503.7" fill="none" stroke="#1b2730" stroke-width="1.85" />
<path d="M1157.2,417 V428.7 M1152.5,428.7 H1160 V435" fill="none" stroke="#1b2730" stroke-width="1.85" />
<rect x="657.50" y="994.50" width="65.50" height="214.50" fill="#dbded1" />
<line x1="727.50" y1="994.50" x2="727.50" y2="1049.20" stroke="#1b2730" stroke-width="1.75" stroke-linecap="butt" />
<line x1="727.50" y1="1051.60" x2="727.50" y2="1153.40" stroke="#1b2730" stroke-width="1.75" stroke-linecap="butt" />
<line x1="727.50" y1="1155.80" x2="727.50" y2="1209.00" stroke="#1b2730" stroke-width="1.75" stroke-linecap="butt" />
<circle cx="730.00" cy="1044.30" r="2.50" fill="#1b2730"/>
<circle cx="730.00" cy="1056.50" r="2.50" fill="#1b2730"/>
<circle cx="730.00" cy="1148.30" r="2.50" fill="#1b2730"/>
<circle cx="730.00" cy="1161.00" r="2.50" fill="#1b2730"/>
<line x1="1418.70" y1="709.50" x2="1737.00" y2="709.50" stroke="#1b2730" stroke-width="1.85" stroke-linecap="butt" />
<circle cx="1440.00" cy="472.00" r="35.60" fill="#f7f7f7" stroke="#1b2730" stroke-width="2"/>
<text x="1441.5" y="495.2" text-anchor="middle" font-family="'Liberation Sans', sans-serif" font-weight="700" font-size="66.5" fill="#15202b" textLength="33.6" lengthAdjust="spacingAndGlyphs">3</text>
<rect x="1453.40" y="669.10" width="33.00" height="29.10" fill="#dbded1" stroke="#1b2730" stroke-width="1.75" />
<rect x="1678.00" y="669.10" width="33.00" height="29.10" fill="#dbded1" stroke="#1b2730" stroke-width="1.75" />
<rect x="1491.30" y="487.20" width="181.10" height="211.00" fill="#f7f7f7" stroke="#1b2730" stroke-width="1.85" />
<path d="M1491.3,487.2 H1672.4 V621.4 H1518.1 V596.9 H1491.3 Z" fill="#dbded1" stroke="#1b2730" stroke-width="1.85" />
<path d="M1491.3,596.9 L1518.1,621.4" fill="none" stroke="#1b2730" stroke-width="1.85" />
<rect x="1507.50" y="635.70" width="62.00" height="36.70" fill="#dbded1" stroke="#1b2730" stroke-width="1.85" />
<rect x="1594.00" y="635.70" width="62.00" height="36.70" fill="#dbded1" stroke="#1b2730" stroke-width="1.85" />
<rect x="1491.30" y="684.60" width="181.10" height="13.60" fill="#dbded1" stroke="#1b2730" stroke-width="1.85" />
<rect x="798.80" y="969.80" width="112.90" height="261.80" fill="#dbded1" stroke="#1b2730" stroke-width="1.85" />
<g transform="translate(791.20,995.90) rotate(90)" fill="#dbded1" stroke="#1b2730" stroke-width="1.85" stroke-linejoin="miter"><path d="M14.85,13.84 L21.72,20.26 A29.7,29.7 0 0 1 -21.72,20.26 L-14.85,13.84 A20.3,20.3 0 0 0 14.85,13.84 Z"/><line x1="5.42" y1="19.56" x2="7.94" y2="28.62"/><line x1="-5.42" y1="19.56" x2="-7.94" y2="28.62"/><path d="M-20.3,0 L20.3,0 A20.3,20.3 0 0 1 -20.3,0 Z"/></g>
<g transform="translate(791.20,1066.40) rotate(90)" fill="#dbded1" stroke="#1b2730" stroke-width="1.85" stroke-linejoin="miter"><path d="M14.85,13.84 L21.72,20.26 A29.7,29.7 0 0 1 -21.72,20.26 L-14.85,13.84 A20.3,20.3 0 0 0 14.85,13.84 Z"/><line x1="5.42" y1="19.56" x2="7.94" y2="28.62"/><line x1="-5.42" y1="19.56" x2="-7.94" y2="28.62"/><path d="M-20.3,0 L20.3,0 A20.3,20.3 0 0 1 -20.3,0 Z"/></g>
<g transform="translate(791.20,1134.20) rotate(90)" fill="#dbded1" stroke="#1b2730" stroke-width="1.85" stroke-linejoin="miter"><path d="M14.85,13.84 L21.72,20.26 A29.7,29.7 0 0 1 -21.72,20.26 L-14.85,13.84 A20.3,20.3 0 0 0 14.85,13.84 Z"/><line x1="5.42" y1="19.56" x2="7.94" y2="28.62"/><line x1="-5.42" y1="19.56" x2="-7.94" y2="28.62"/><path d="M-20.3,0 L20.3,0 A20.3,20.3 0 0 1 -20.3,0 Z"/></g>
<g transform="translate(791.20,1202.00) rotate(90)" fill="#dbded1" stroke="#1b2730" stroke-width="1.85" stroke-linejoin="miter"><path d="M14.85,13.84 L21.72,20.26 A29.7,29.7 0 0 1 -21.72,20.26 L-14.85,13.84 A20.3,20.3 0 0 0 14.85,13.84 Z"/><line x1="5.42" y1="19.56" x2="7.94" y2="28.62"/><line x1="-5.42" y1="19.56" x2="-7.94" y2="28.62"/><path d="M-20.3,0 L20.3,0 A20.3,20.3 0 0 1 -20.3,0 Z"/></g>
<g transform="translate(920.60,999.00) rotate(-90)" fill="#dbded1" stroke="#1b2730" stroke-width="1.85" stroke-linejoin="miter"><path d="M14.85,13.84 L21.72,20.26 A29.7,29.7 0 0 1 -21.72,20.26 L-14.85,13.84 A20.3,20.3 0 0 0 14.85,13.84 Z"/><line x1="5.42" y1="19.56" x2="7.94" y2="28.62"/><line x1="-5.42" y1="19.56" x2="-7.94" y2="28.62"/><path d="M-20.3,0 L20.3,0 A20.3,20.3 0 0 1 -20.3,0 Z"/></g>
<g transform="translate(920.60,1066.60) rotate(-90)" fill="#dbded1" stroke="#1b2730" stroke-width="1.85" stroke-linejoin="miter"><path d="M14.85,13.84 L21.72,20.26 A29.7,29.7 0 0 1 -21.72,20.26 L-14.85,13.84 A20.3,20.3 0 0 0 14.85,13.84 Z"/><line x1="5.42" y1="19.56" x2="7.94" y2="28.62"/><line x1="-5.42" y1="19.56" x2="-7.94" y2="28.62"/><path d="M-20.3,0 L20.3,0 A20.3,20.3 0 0 1 -20.3,0 Z"/></g>
<g transform="translate(920.60,1137.00) rotate(-90)" fill="#dbded1" stroke="#1b2730" stroke-width="1.85" stroke-linejoin="miter"><path d="M14.85,13.84 L21.72,20.26 A29.7,29.7 0 0 1 -21.72,20.26 L-14.85,13.84 A20.3,20.3 0 0 0 14.85,13.84 Z"/><line x1="5.42" y1="19.56" x2="7.94" y2="28.62"/><line x1="-5.42" y1="19.56" x2="-7.94" y2="28.62"/><path d="M-20.3,0 L20.3,0 A20.3,20.3 0 0 1 -20.3,0 Z"/></g>
<g transform="translate(920.60,1204.60) rotate(-90)" fill="#dbded1" stroke="#1b2730" stroke-width="1.85" stroke-linejoin="miter"><path d="M14.85,13.84 L21.72,20.26 A29.7,29.7 0 0 1 -21.72,20.26 L-14.85,13.84 A20.3,20.3 0 0 0 14.85,13.84 Z"/><line x1="5.42" y1="19.56" x2="7.94" y2="28.62"/><line x1="-5.42" y1="19.56" x2="-7.94" y2="28.62"/><path d="M-20.3,0 L20.3,0 A20.3,20.3 0 0 1 -20.3,0 Z"/></g>
<g transform="translate(855.70,962.00) rotate(180)" fill="#dbded1" stroke="#1b2730" stroke-width="1.85" stroke-linejoin="miter"><path d="M14.85,13.84 L21.72,20.26 A29.7,29.7 0 0 1 -21.72,20.26 L-14.85,13.84 A20.3,20.3 0 0 0 14.85,13.84 Z"/><line x1="5.42" y1="19.56" x2="7.94" y2="28.62"/><line x1="-5.42" y1="19.56" x2="-7.94" y2="28.62"/><path d="M-20.3,0 L20.3,0 A20.3,20.3 0 0 1 -20.3,0 Z"/></g>
<g transform="translate(856.20,1241.00) rotate(0)" fill="#dbded1" stroke="#1b2730" stroke-width="1.85" stroke-linejoin="miter"><path d="M14.85,13.84 L21.72,20.26 A29.7,29.7 0 0 1 -21.72,20.26 L-14.85,13.84 A20.3,20.3 0 0 0 14.85,13.84 Z"/><line x1="5.42" y1="19.56" x2="7.94" y2="28.62"/><line x1="-5.42" y1="19.56" x2="-7.94" y2="28.62"/><path d="M-20.3,0 L20.3,0 A20.3,20.3 0 0 1 -20.3,0 Z"/></g>
<rect x="707.50" y="1441.00" width="193.80" height="105.20" fill="#dbded1" stroke="#1b2730" stroke-width="1.85" />
<g transform="translate(733.80,1433.00) rotate(180)" fill="#dbded1" stroke="#1b2730" stroke-width="1.85" stroke-linejoin="miter"><path d="M15.80,14.73 L23.04,21.48 A31.5,31.5 0 0 1 -23.04,21.48 L-15.80,14.73 A21.6,21.6 0 0 0 15.80,14.73 Z"/><line x1="5.77" y1="20.81" x2="8.42" y2="30.35"/><line x1="-5.77" y1="20.81" x2="-8.42" y2="30.35"/><path d="M-21.6,0 L21.6,0 A21.6,21.6 0 0 1 -21.6,0 Z"/></g>
<g transform="translate(805.00,1433.00) rotate(180)" fill="#dbded1" stroke="#1b2730" stroke-width="1.85" stroke-linejoin="miter"><path d="M15.80,14.73 L23.04,21.48 A31.5,31.5 0 0 1 -23.04,21.48 L-15.80,14.73 A21.6,21.6 0 0 0 15.80,14.73 Z"/><line x1="5.77" y1="20.81" x2="8.42" y2="30.35"/><line x1="-5.77" y1="20.81" x2="-8.42" y2="30.35"/><path d="M-21.6,0 L21.6,0 A21.6,21.6 0 0 1 -21.6,0 Z"/></g>
<g transform="translate(873.30,1433.00) rotate(180)" fill="#dbded1" stroke="#1b2730" stroke-width="1.85" stroke-linejoin="miter"><path d="M15.80,14.73 L23.04,21.48 A31.5,31.5 0 0 1 -23.04,21.48 L-15.80,14.73 A21.6,21.6 0 0 0 15.80,14.73 Z"/><line x1="5.77" y1="20.81" x2="8.42" y2="30.35"/><line x1="-5.77" y1="20.81" x2="-8.42" y2="30.35"/><path d="M-21.6,0 L21.6,0 A21.6,21.6 0 0 1 -21.6,0 Z"/></g>
<g transform="translate(734.50,1554.80) rotate(0)" fill="#dbded1" stroke="#1b2730" stroke-width="1.85" stroke-linejoin="miter"><path d="M15.80,14.73 L23.04,21.48 A31.5,31.5 0 0 1 -23.04,21.48 L-15.80,14.73 A21.6,21.6 0 0 0 15.80,14.73 Z"/><line x1="5.77" y1="20.81" x2="8.42" y2="30.35"/><line x1="-5.77" y1="20.81" x2="-8.42" y2="30.35"/><path d="M-21.6,0 L21.6,0 A21.6,21.6 0 0 1 -21.6,0 Z"/></g>
<g transform="translate(802.50,1554.80) rotate(0)" fill="#dbded1" stroke="#1b2730" stroke-width="1.85" stroke-linejoin="miter"><path d="M15.80,14.73 L23.04,21.48 A31.5,31.5 0 0 1 -23.04,21.48 L-15.80,14.73 A21.6,21.6 0 0 0 15.80,14.73 Z"/><line x1="5.77" y1="20.81" x2="8.42" y2="30.35"/><line x1="-5.77" y1="20.81" x2="-8.42" y2="30.35"/><path d="M-21.6,0 L21.6,0 A21.6,21.6 0 0 1 -21.6,0 Z"/></g>
<g transform="translate(873.80,1554.80) rotate(0)" fill="#dbded1" stroke="#1b2730" stroke-width="1.85" stroke-linejoin="miter"><path d="M15.80,14.73 L23.04,21.48 A31.5,31.5 0 0 1 -23.04,21.48 L-15.80,14.73 A21.6,21.6 0 0 0 15.80,14.73 Z"/><line x1="5.77" y1="20.81" x2="8.42" y2="30.35"/><line x1="-5.77" y1="20.81" x2="-8.42" y2="30.35"/><path d="M-21.6,0 L21.6,0 A21.6,21.6 0 0 1 -21.6,0 Z"/></g>
<g transform="translate(699.60,1493.50) rotate(90)" fill="#dbded1" stroke="#1b2730" stroke-width="1.85" stroke-linejoin="miter"><path d="M15.80,14.73 L23.04,21.48 A31.5,31.5 0 0 1 -23.04,21.48 L-15.80,14.73 A21.6,21.6 0 0 0 15.80,14.73 Z"/><line x1="5.77" y1="20.81" x2="8.42" y2="30.35"/><line x1="-5.77" y1="20.81" x2="-8.42" y2="30.35"/><path d="M-21.6,0 L21.6,0 A21.6,21.6 0 0 1 -21.6,0 Z"/></g>
<g transform="translate(908.80,1495.00) rotate(-90)" fill="#dbded1" stroke="#1b2730" stroke-width="1.85" stroke-linejoin="miter"><path d="M15.80,14.73 L23.04,21.48 A31.5,31.5 0 0 1 -23.04,21.48 L-15.80,14.73 A21.6,21.6 0 0 0 15.80,14.73 Z"/><line x1="5.77" y1="20.81" x2="8.42" y2="30.35"/><line x1="-5.77" y1="20.81" x2="-8.42" y2="30.35"/><path d="M-21.6,0 L21.6,0 A21.6,21.6 0 0 1 -21.6,0 Z"/></g>
<rect x="767.20" y="1346.70" width="113.20" height="3.20" fill="#46525b" stroke="#1b2730" stroke-width="1.1" rx="1.4" />
<rect x="842.20" y="1341.90" width="99.40" height="2.90" fill="#46525b" stroke="#1b2730" stroke-width="1.1" rx="1.4" />
<line x1="752.20" y1="1338.60" x2="752.20" y2="1350.60" stroke="#1b2730" stroke-width="1.8" stroke-linecap="butt" />
<line x1="946.30" y1="1338.60" x2="946.30" y2="1350.60" stroke="#1b2730" stroke-width="1.8" stroke-linecap="butt" />
<rect x="1285.60" y="811.20" width="110.20" height="116.00" fill="#dbded1" />
<g stroke="#0b1016" stroke-width="1.65" fill="none">
<path d="M1181.6,812.2 H1285.6 M1395.8,812.2 H1499.8 M1181.6,812.2 V1030.4 M1499.8,802 V1030.4 M1181.6,1030.4 H1737"/>
<path d="M1285.6,812.2 V1030.4 M1395.8,812.2 V1030.4"/>
<line x1="1181.6" y1="839.5" x2="1285.6" y2="839.5"/>
<line x1="1181.6" y1="868.2" x2="1285.6" y2="868.2"/>
<line x1="1181.6" y1="896.6" x2="1285.6" y2="896.6"/>
<line x1="1181.6" y1="927.2" x2="1285.6" y2="927.2"/>
<line x1="1395.8" y1="838.2" x2="1499.8" y2="838.2"/>
<line x1="1395.8" y1="867.5" x2="1499.8" y2="867.5"/>
<line x1="1395.8" y1="895.7" x2="1499.8" y2="895.7"/>
<line x1="1395.8" y1="927.2" x2="1499.8" y2="927.2"/>
<line x1="1285.6" y1="927.2" x2="1395.8" y2="927.2"/>
<line x1="1313.1" y1="927.2" x2="1313.1" y2="1030.4"/>
<line x1="1340.9" y1="927.2" x2="1340.9" y2="1030.4"/>
<line x1="1368.2" y1="927.2" x2="1368.2" y2="1030.4"/>
<line x1="1285.6" y1="927.2" x2="1181.6" y2="971.9"/>
<line x1="1285.6" y1="927.2" x2="1183.1" y2="1030.4"/>
<line x1="1285.6" y1="927.2" x2="1243.2" y2="1030.4"/>
<line x1="1395.8" y1="927.2" x2="1499.8" y2="971.6"/>
<line x1="1395.8" y1="927.2" x2="1498.3" y2="1030.4"/>
<line x1="1395.8" y1="927.2" x2="1439.6" y2="1030.4"/>
</g>
<path d="M1232.9,831 V938 A40.5,40.5 0 0 0 1273.4,978.6 H1406.4 A40.5,40.5 0 0 0 1446.9,938 V815.8" fill="none" stroke="#15222e" stroke-width="3" stroke-linecap="round"/>
<polygon points="1232.60,813.20 1245.20,833.20 1220.40,833.20" fill="#15222e" />
<g stroke="#262522" fill="none" stroke-linecap="round">
<line x1="1294.4" y1="828" x2="1294.4" y2="912.8" stroke-width="4.7"/>
<line x1="1381.5" y1="828" x2="1381.5" y2="912.8" stroke-width="4.7"/>
<line x1="1303.6" y1="841" x2="1372.6" y2="841" stroke-width="4.5"/>
<line x1="1303.6" y1="899" x2="1372.6" y2="899" stroke-width="4.5"/>
<path d="M1338.5,835.4 V821.6 M1333.4,827.4 L1338.5,821 L1343.6,827.4" stroke-width="2.3" stroke-linejoin="round"/>
<path d="M1338.5,904.6 V918.6 M1333.4,912.6 L1338.5,919 L1343.6,912.6" stroke-width="2.3" stroke-linejoin="round"/>
</g>
<g fill="#262522" stroke="#262522" stroke-linejoin="round" stroke-linecap="round">
<circle cx="1324.8" cy="852.5" r="4.4" stroke="none"/>
<path d="M1320,860 H1329.4 L1333,885 H1316 Z" stroke-width="2.2"/>
<path d="M1318.6,861.6 L1312.6,874.6 M1330.8,861.6 L1336.2,874.6" stroke-width="2.9" fill="none"/>
<path d="M1321.4,885 V892.6 M1327.8,885 V892.6" stroke-width="3.6" fill="none"/>
<circle cx="1352.8" cy="852.5" r="4.4" stroke="none"/>
<path d="M1347.6,860 H1358 V876.6 H1347.6 Z" stroke-width="2.6"/>
<path d="M1346.2,861.6 L1341,874.6 M1359.4,861.6 L1364.6,874.6" stroke-width="2.9" fill="none"/>
<path d="M1349.4,876 V892.6 M1356.2,876 V892.6" stroke-width="3.7" fill="none"/>
</g>
<line x1="1519.30" y1="829.00" x2="1519.30" y2="1018.60" stroke="#15222e" stroke-width="5" stroke-linecap="round" />
<rect x="1514.30" y="899.80" width="3.70" height="47.40" fill="#15222e" rx="1.6" />
<path d="M1517,916.6 A6.9,6.9 0 0 0 1517,930.4 Z" fill="#15222e" />
<rect x="1181.60" y="1033.60" width="550.60" height="66.50" fill="#dbded1" />
<rect x="1231.30" y="1034.80" width="128.90" height="65.80" fill="#dbded1" stroke="#1b2730" stroke-width="1.9" />
<circle cx="1295.60" cy="1067.80" r="22.30" fill="#f8f8f8" stroke="#1b2730" stroke-width="1.9"/>
<path d="M1290.62,1084.38 C1285.00,1081.88 1282.50,1075.00 1286.25,1069.38 C1287.50,1067.50 1288.00,1065.62 1288.12,1063.62 C1290.12,1066.25 1291.00,1068.75 1290.75,1071.88 C1292.81,1066.25 1289.06,1057.50 1295.38,1050.50 C1293.75,1058.75 1298.25,1062.50 1299.00,1068.25 C1301.38,1065.62 1302.62,1063.12 1303.50,1059.88 C1307.19,1067.50 1309.06,1076.25 1301.25,1084.38 C1302.25,1080.94 1301.00,1078.44 1299.25,1075.94 C1299.12,1077.19 1298.62,1078.12 1297.88,1078.75 C1297.62,1076.56 1296.62,1075.31 1295.25,1074.25 C1295.50,1075.94 1294.88,1076.88 1294.12,1077.62 C1293.88,1076.88 1293.50,1076.25 1293.00,1075.88 C1290.62,1078.75 1289.88,1081.56 1290.62,1084.38 Z" fill="#f05f28" />
<line x1="1181.60" y1="1104.00" x2="1235.30" y2="1104.00" stroke="#1b2730" stroke-width="1.8" stroke-linecap="butt" />
<line x1="1237.80" y1="1104.00" x2="1344.00" y2="1104.00" stroke="#1b2730" stroke-width="1.8" stroke-linecap="butt" />
<line x1="1346.60" y1="1104.00" x2="1452.80" y2="1104.00" stroke="#1b2730" stroke-width="1.8" stroke-linecap="butt" />
<line x1="1455.40" y1="1104.00" x2="1565.00" y2="1104.00" stroke="#1b2730" stroke-width="1.8" stroke-linecap="butt" />
<line x1="1567.50" y1="1104.00" x2="1673.80" y2="1104.00" stroke="#1b2730" stroke-width="1.8" stroke-linecap="butt" />
<line x1="1676.30" y1="1104.00" x2="1732.20" y2="1104.00" stroke="#1b2730" stroke-width="1.8" stroke-linecap="butt" />
<circle cx="1230.30" cy="1107.20" r="2.60" fill="#1b2730"/>
<circle cx="1243.10" cy="1107.20" r="2.60" fill="#1b2730"/>
<circle cx="1339.10" cy="1107.20" r="2.60" fill="#1b2730"/>
<circle cx="1351.90" cy="1107.20" r="2.60" fill="#1b2730"/>
<circle cx="1447.60" cy="1107.20" r="2.60" fill="#1b2730"/>
<circle cx="1460.70" cy="1107.20" r="2.60" fill="#1b2730"/>
<circle cx="1559.70" cy="1107.20" r="2.60" fill="#1b2730"/>
<circle cx="1572.60" cy="1107.20" r="2.60" fill="#1b2730"/>
<circle cx="1668.50" cy="1107.20" r="2.60" fill="#1b2730"/>
<circle cx="1681.60" cy="1107.20" r="2.60" fill="#1b2730"/>
<path d="M1529.6,1077.2 L1532,1081.3 L1696.6,1082.4 L1699.8,1077.2 Z" fill="#dbded1" stroke="#1b2730" stroke-width="1.1" />
<path d="M1599.4,1066.3 A17.9,17.9 0 0 1 1628.1,1066.3" fill="#dbded1" stroke="#1b2730" stroke-width="1.2" />
<path d="M1567,1071.5 V1069 C1567,1066.8 1568.6,1065.5 1570.6,1065.5 H1657 C1659,1065.5 1660.6,1066.8 1660.6,1069 V1071.5 Z" fill="#1b2730" />
<rect x="1526.90" y="1070.10" width="174.00" height="7.90" fill="#1b2730" rx="3.9" />
<rect x="1647.30" y="740.10" width="80.00" height="266.90" fill="#dbded1" stroke="#1b2730" stroke-width="1.75" />
<rect x="1647.30" y="758.30" width="61.80" height="232.70" fill="#f7f7f7" stroke="#1b2730" stroke-width="1.75" />
<line x1="1709.10" y1="740.10" x2="1709.10" y2="1007.00" stroke="#1b2730" stroke-width="1.75" stroke-linecap="butt" />
<line x1="1647.30" y1="816.30" x2="1709.10" y2="816.30" stroke="#1b2730" stroke-width="1.75" stroke-linecap="butt" />
<line x1="1647.30" y1="874.10" x2="1709.10" y2="874.10" stroke="#1b2730" stroke-width="1.75" stroke-linecap="butt" />
<line x1="1647.30" y1="932.70" x2="1709.10" y2="932.70" stroke="#1b2730" stroke-width="1.75" stroke-linecap="butt" />
<rect x="1689.20" y="1122.20" width="38.40" height="162.60" fill="#dbded1" stroke="#1b2730" stroke-width="1.4" />
<rect x="1693.50" y="1117.50" width="13.70" height="169.50" fill="#dbded1" stroke="#1b2730" stroke-width="1.65" rx="1" />
<rect x="1709.40" y="1117.50" width="14.20" height="169.50" fill="#dbded1" stroke="#1b2730" stroke-width="1.65" rx="1" />
<g transform="translate(1221.7,1308.6) rotate(-11.1)">
<path d="M-35.6,0 V-28.9 A35.6,35.6 0 0 1 35.6,-28.9 V0 H22.0 V-28.9 A22.0,22.0 0 0 0 -22.0,-28.9 V0 Z" fill="#dbded1" stroke="#1b2730" stroke-width="1.75" />
<line x1="-22.00" y1="0.00" x2="22.00" y2="0.00" stroke="#1b2730" stroke-width="1.75" stroke-linecap="butt" />
</g>
<g transform="translate(1343.6,1303.6) rotate(33.4)">
<path d="M-35.6,0 V-28.9 A35.6,35.6 0 0 1 35.6,-28.9 V0 H22.0 V-28.9 A22.0,22.0 0 0 0 -22.0,-28.9 V0 Z" fill="#dbded1" stroke="#1b2730" stroke-width="1.75" />
<line x1="-22.00" y1="0.00" x2="22.00" y2="0.00" stroke="#1b2730" stroke-width="1.75" stroke-linecap="butt" />
</g>
<circle cx="1238.20" cy="1370.50" r="31.10" fill="#dbded1" stroke="#1b2730" stroke-width="1.75"/>
<circle cx="1343.50" cy="1372.60" r="31.10" fill="#dbded1" stroke="#1b2730" stroke-width="1.75"/>
<path d="M1023.6,1369.8 H1103 V1450.6 H1472.4 V1369.8 H1553 V1534.8 H1023.6 Z" fill="#dbded1" stroke="#1b2730" stroke-width="1.75" />
<rect x="1040.00" y="1386.00" width="62.60" height="64.60" fill="#f7f7f7" stroke="#1b2730" stroke-width="1.75" />
<rect x="1472.40" y="1386.00" width="61.90" height="64.60" fill="#f7f7f7" stroke="#1b2730" stroke-width="1.75" />
<rect x="1040.00" y="1450.60" width="494.30" height="65.20" fill="#f7f7f7" stroke="#1b2730" stroke-width="1.75" />
<line x1="1102.60" y1="1450.60" x2="1102.60" y2="1515.80" stroke="#1b2730" stroke-width="1.75" stroke-linecap="butt" />
<line x1="1164.50" y1="1450.60" x2="1164.50" y2="1515.80" stroke="#1b2730" stroke-width="1.75" stroke-linecap="butt" />
<line x1="1226.00" y1="1450.60" x2="1226.00" y2="1515.80" stroke="#1b2730" stroke-width="1.75" stroke-linecap="butt" />
<line x1="1287.60" y1="1450.60" x2="1287.60" y2="1515.80" stroke="#1b2730" stroke-width="1.75" stroke-linecap="butt" />
<line x1="1349.30" y1="1450.60" x2="1349.30" y2="1515.80" stroke="#1b2730" stroke-width="1.75" stroke-linecap="butt" />
<line x1="1411.00" y1="1450.60" x2="1411.00" y2="1515.80" stroke="#1b2730" stroke-width="1.75" stroke-linecap="butt" />
<line x1="1472.40" y1="1450.60" x2="1472.40" y2="1515.80" stroke="#1b2730" stroke-width="1.75" stroke-linecap="butt" />
<line x1="1534.30" y1="1369.80" x2="1534.30" y2="1450.60" stroke="#1b2730" stroke-width="1.75" stroke-linecap="butt" />
<g transform="translate(1633,1420.3) rotate(-35.4)">
<rect x="-46.80" y="-37.40" width="93.60" height="74.80" fill="#dbded1" stroke="#1b2730" stroke-width="1.75" />
<rect x="-30.80" y="-21.40" width="61.60" height="58.80" fill="#f8f8f8" stroke="#1b2730" stroke-width="1.75" />
<line x1="-46.80" y1="-21.40" x2="46.80" y2="-21.40" stroke="#1b2730" stroke-width="1.75" stroke-linecap="butt" />
</g>
<g transform="translate(1760.6,1432.5) rotate(48.8)">
<rect x="-46.80" y="-37.40" width="93.60" height="74.80" fill="#dbded1" stroke="#1b2730" stroke-width="1.75" />
<rect x="-30.80" y="-21.40" width="61.60" height="58.80" fill="#f8f8f8" stroke="#1b2730" stroke-width="1.75" />
<line x1="-46.80" y1="-21.40" x2="46.80" y2="-21.40" stroke="#1b2730" stroke-width="1.75" stroke-linecap="butt" />
</g>
<g transform="translate(1737.5,1571) rotate(144.6)">
<rect x="-46.80" y="-37.40" width="93.60" height="74.80" fill="#dbded1" stroke="#1b2730" stroke-width="1.75" />
<rect x="-30.80" y="-21.40" width="61.60" height="58.80" fill="#f8f8f8" stroke="#1b2730" stroke-width="1.75" />
<line x1="-46.80" y1="-21.40" x2="46.80" y2="-21.40" stroke="#1b2730" stroke-width="1.75" stroke-linecap="butt" />
</g>
<circle cx="1685.50" cy="1491.80" r="31.10" fill="#dbded1" stroke="#1b2730" stroke-width="1.75"/>
<g transform="rotate(-0.9 1150 440)">
<rect x="1081.80" y="435.30" width="67.80" height="7.20" fill="#dbded1" stroke="#1b2730" stroke-width="1.65" />
</g>
<path d="M1082.6,447.6 A68,64.6 0 0 0 1150.4,503.3" fill="none" stroke="#1b2730" stroke-width="1.65" stroke-dasharray="7.2 4.6"/>
<rect x="1256.80" y="423.80" width="7.30" height="66.80" fill="#dbded1" stroke="#1b2730" stroke-width="1.65" />
<path d="M1195.6,423 A65,68 0 0 0 1252,489.4" fill="none" stroke="#1b2730" stroke-width="1.65" stroke-dasharray="7.2 4.6"/>
<path d="M1188.2,412.3 V419.6 M1188.2,412.3 H1195.6" fill="none" stroke="#1b2730" stroke-width="1.75" />
<path d="M1270.8,412.8 V420.4 M1270.8,412.8 H1264.4" fill="none" stroke="#1b2730" stroke-width="1.75" />
<rect x="1269.10" y="608.20" width="7.70" height="67.20" fill="#dbded1" stroke="#1b2730" stroke-width="1.65" />
<path d="M1267.5,608.4 A65,68 0 0 0 1208.2,677" fill="none" stroke="#1b2730" stroke-width="1.65" stroke-dasharray="7.2 4.6"/>
<rect x="1302.80" y="608.20" width="7.70" height="66.80" fill="#dbded1" stroke="#1b2730" stroke-width="1.65" />
<path d="M1311.4,608.4 A64.6,68 0 0 1 1371.3,677.5" fill="none" stroke="#1b2730" stroke-width="1.65" stroke-dasharray="7.2 4.6"/>
<line x1="1100.40" y1="681.40" x2="1201.30" y2="681.40" stroke="#1b2730" stroke-width="1.85" stroke-linecap="butt" />
<path d="M1201.3,678.7 V686.6 H1207" fill="none" stroke="#1b2730" stroke-width="1.75" />
<path d="M1276.5,686.4 H1283.2 V678.8 M1283.2,681.5 H1296.3 M1296.3,678.8 V686.4 H1303" fill="none" stroke="#1b2730" stroke-width="1.75" />
<path d="M1371.5,687 H1378.8 V679.4 M1378.8,681.5 H1418.7" fill="none" stroke="#1b2730" stroke-width="1.75" />
<g transform="rotate(0.9 1507 730)">
<rect x="1507.30" y="726.60" width="68.10" height="7.00" fill="#dbded1" stroke="#1b2730" stroke-width="1.65" />
</g>
<path d="M1574.7,739.6 A67.5,66 0 0 1 1506.6,795.2" fill="none" stroke="#1b2730" stroke-width="1.65" stroke-dasharray="7.2 4.6"/>
<path d="M1500.2,709.5 V719.5 M1496.4,719.5 H1505.3 M1497,720 V726.8" fill="none" stroke="#1b2730" stroke-width="1.75" />
<path d="M1496,795.4 V801.6 H1504 M1500.2,801.6 V812.2" fill="none" stroke="#1b2730" stroke-width="1.75" />
<g transform="rotate(-0.6 1668 1335)">
<rect x="1664.80" y="1268.30" width="7.20" height="66.90" fill="#dbded1" stroke="#1b2730" stroke-width="1.65" />
</g>
<path d="M1663.2,1269.2 A64,67.5 0 0 0 1604.6,1338" fill="none" stroke="#1b2730" stroke-width="1.65" stroke-dasharray="7.2 4.6"/>
<path d="M1596.7,1338.4 V1347.3 H1603.4" fill="none" stroke="#1b2730" stroke-width="1.75" />
<path d="M1678.6,1337.6 V1346 H1672.2" fill="none" stroke="#1b2730" stroke-width="1.75" />
<g stroke="#050505" stroke-width="3.1" fill="none" stroke-linejoin="miter" stroke-linecap="butt">
<path d="M518.5,1601 V628.5 H388.5 V207.5 H1737 V1345"/>
<path d="M1188,416 H649.8 V1347 H752.5"/>
<path d="M946.2,1347 H1013.5 V1545.3 L1562.4,1546.6 V1343.5 H1596.8"/>
<path d="M1678.4,1343.5 H1828.2 V1601"/>
<path d="M1271,416 H1737"/>
</g>
<rect x="0" y="0" width="2400" height="400" fill="url(#gt)"/>
<rect x="0" y="1200" width="2400" height="400" fill="url(#gb)"/>
<g fill="#051622">
<ellipse cx="140.8" cy="48.5" rx="33" ry="33.8" mask="url(#mo1)"/>
<line x1="188.6" y1="29.5" x2="213.8" y2="67.4" stroke="#051622" stroke-width="28.4" stroke-linecap="round"/>
<path d="M226.7,19.1 C231,16 236,14.7 240,15.2 C247,16.5 251,24 250.9,32 C250.5,41 244,50 237.5,58.2 C238.8,46 237,31 226.7,19.1 Z"/>
<ellipse cx="285.5" cy="48.5" rx="32.8" ry="33.8" mask="url(#mo2)"/>
</g>
<text x="113" y="120" font-family="'Liberation Sans', sans-serif" font-size="29" fill="#051622" stroke="#051622" stroke-width="0.55" textLength="199" lengthAdjust="spacing">NETWORK</text>
<text y="89.6" font-family="'Liberation Sans', sans-serif" font-weight="700" font-size="92.5" fill="#051622"><tspan x="439.4" textLength="372.4" lengthAdjust="spacingAndGlyphs">CHALET</tspan> <tspan x="838.6" textLength="362.4" lengthAdjust="spacingAndGlyphs">GALATA</tspan> <tspan x="1226.4" textLength="59.6" lengthAdjust="spacingAndGlyphs">0</tspan></text>
</svg>
</body>
</html>
